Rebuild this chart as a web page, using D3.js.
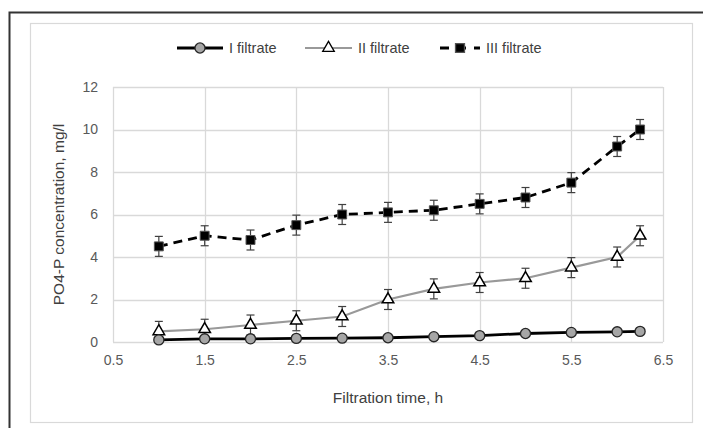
<html>
<head>
  <meta charset="utf-8">
  <title>PO4-P concentration</title>
  <style>
    html, body { margin: 0; padding: 0; background: #fff; }
    svg { display: block; font-family: "Liberation Sans", Arial, sans-serif; }
  </style>
  <script src="https://d3js.org/d3.v7.js" charset="utf-8"></script>
</head>
<body>
<script>
  // data
  var times = [1, 1.5, 2, 2.5, 3, 3.5, 4, 4.5, 5, 5.5, 6, 6.25];
  var filtrate1 = [0.1, 0.15, 0.15, 0.17, 0.18, 0.2, 0.25, 0.3, 0.4, 0.45, 0.48, 0.5];
  var filtrate2 = [0.5, 0.6, 0.8, 1.0, 1.2, 2.0, 2.5, 2.8, 3.0, 3.5, 4.0, 5.0];
  var filtrate3 = [4.5, 5.0, 4.8, 5.5, 6.0, 6.1, 6.2, 6.5, 6.8, 7.5, 9.2, 10.0];
  var errorBar = 0.47;
  var xTicks = [0.5, 1.5, 2.5, 3.5, 4.5, 5.5, 6.5];
  var yTicks = [0, 2, 4, 6, 8, 10, 12];
  var seriesNames = ["I filtrate", "II filtrate", "III filtrate"];

  var width = 703, height = 428;
  var svg = d3.select("body").append("svg")
    .attr("width", width)
    .attr("height", height);

  // outer frame
  svg.append("path")
    .attr("d", "M9.5," + height + "V12.5H" + width)
    .attr("fill", "none").attr("stroke", "#333").attr("stroke-width", 2);
  svg.append("rect")
    .attr("x", 30.5).attr("y", 23.5).attr("width", 662).attr("height", 399)
    .attr("fill", "#fff").attr("stroke", "#d9d9d9").attr("stroke-width", 1.2);

  var x = d3.scaleLinear().domain([0.5, 6.5]).range([113, 663]);
  var y = d3.scaleLinear().domain([0, 12]).range([342, 87]);

  // grid
  var grid = svg.append("g");
  grid.selectAll(".gx").data(xTicks).enter().append("line")
    .attr("x1", d => Math.round(x(d)) + 0.5).attr("x2", d => Math.round(x(d)) + 0.5)
    .attr("y1", y(12)).attr("y2", y(0))
    .attr("stroke", "#d9d9d9").attr("stroke-width", 1.3);
  grid.selectAll(".gy").data(yTicks).enter().append("line")
    .attr("y1", d => Math.round(y(d)) + 0.5).attr("y2", d => Math.round(y(d)) + 0.5)
    .attr("x1", x(0.5)).attr("x2", x(6.5))
    .attr("stroke", "#d9d9d9").attr("stroke-width", 1.3);

  // axes labels
  var xAxis = svg.append("g")
    .attr("transform", "translate(0," + (y(0) + 7) + ")")
    .call(d3.axisBottom(x).tickValues(xTicks).tickSize(0).tickFormat(d3.format(".1f")));
  var yAxis = svg.append("g")
    .attr("transform", "translate(" + (x(0.5) - 12) + ",0)")
    .call(d3.axisLeft(y).tickValues(yTicks).tickSize(0));
  [xAxis, yAxis].forEach(function (a) {
    a.select(".domain").remove();
    a.attr("font-size", null).attr("font-family", null);
    a.selectAll("text").attr("fill", "#595959").style("font-size", "14px");
  });
  xAxis.selectAll("text").attr("dy", "0.9em");

  svg.append("text")
    .attr("x", (x(0.5) + x(6.5)) / 2).attr("y", 403)
    .attr("text-anchor", "middle").attr("fill", "#404040")
    .style("font-size", "15.5px").text("Filtration time, h");
  svg.append("text")
    .attr("transform", "translate(64," + ((y(0) + y(12)) / 2) + ") rotate(-90)")
    .attr("text-anchor", "middle").attr("fill", "#404040")
    .style("font-size", "15.5px").text("PO4-P concentration, mg/l");

  var line = d3.line().x(d => x(d[0])).y(d => y(d[1]));
  function pts(vals) { return times.map((t, i) => [t, vals[i]]); }

  // error bars
  function errBars(vals) {
    var g = svg.append("g").attr("stroke", "#404040").attr("stroke-width", 1.2);
    pts(vals).forEach(function (p) {
      var cx = x(p[0]);
      g.append("line").attr("x1", cx).attr("x2", cx).attr("y1", y(p[1] - errorBar)).attr("y2", y(p[1] + errorBar));
      g.append("line").attr("x1", cx - 4).attr("x2", cx + 4).attr("y1", y(p[1] - errorBar)).attr("y2", y(p[1] - errorBar));
      g.append("line").attr("x1", cx - 4).attr("x2", cx + 4).attr("y1", y(p[1] + errorBar)).attr("y2", y(p[1] + errorBar));
    });
  }
  errBars(filtrate2);
  errBars(filtrate3);

  // lines
  svg.append("path").attr("d", line(pts(filtrate2)))
    .attr("fill", "none").attr("stroke", "#999").attr("stroke-width", 2.2);
  svg.append("path").attr("d", line(pts(filtrate1)))
    .attr("fill", "none").attr("stroke", "#000").attr("stroke-width", 2.8);
  svg.append("path").attr("d", line(pts(filtrate3)))
    .attr("fill", "none").attr("stroke", "#000").attr("stroke-width", 2.8)
    .attr("stroke-dasharray", "9,6");

  // markers
  var circle = d3.symbol().type(d3.symbolCircle).size(80);
  var triangle = d3.symbol().type(d3.symbolTriangle).size(58);
  var square = d3.symbol().type(d3.symbolSquare).size(80);
  function markers(vals, sym, fill, stroke, sw) {
    svg.append("g").selectAll("path").data(pts(vals)).enter().append("path")
      .attr("transform", d => "translate(" + x(d[0]) + "," + y(d[1]) + ")")
      .attr("d", sym).attr("fill", fill).attr("stroke", stroke).attr("stroke-width", sw);
  }
  markers(filtrate2, triangle, "#fff", "#000", 1.5);
  markers(filtrate1, circle, "#a6a6a6", "#262626", 1.3);
  markers(filtrate3, square, "#000", "#555", 1);

  // legend
  var legend = svg.append("g");
  var leg = [
    { x: 177, w: 46, text: seriesNames[0], stroke: "#000", sw: 2.8, dash: null, sym: circle, fill: "#a6a6a6", ms: "#262626" },
    { x: 305, w: 47, text: seriesNames[1], stroke: "#999", sw: 2.2, dash: null, sym: triangle, fill: "#fff", ms: "#000" },
    { x: 440, w: 40, text: seriesNames[2], stroke: "#000", sw: 2.8, dash: "9,8", sym: square, fill: "#000", ms: "#555" }
  ];
  leg.forEach(function (l) {
    var ly = 48;
    legend.append("line").attr("x1", l.x).attr("x2", l.x + l.w).attr("y1", ly).attr("y2", ly)
      .attr("stroke", l.stroke).attr("stroke-width", l.sw).attr("stroke-dasharray", l.dash);
    legend.append("path").attr("transform", "translate(" + (l.x + l.w / 2) + "," + ly + ")")
      .attr("d", l.sym).attr("fill", l.fill).attr("stroke", l.ms).attr("stroke-width", 1.3);
    legend.append("text").attr("x", l.x + l.w + 6).attr("y", ly).attr("dy", "0.35em")
      .attr("fill", "#404040").style("font-size", "14.5px").text(l.text);
  });
</script>
</body>
</html>
